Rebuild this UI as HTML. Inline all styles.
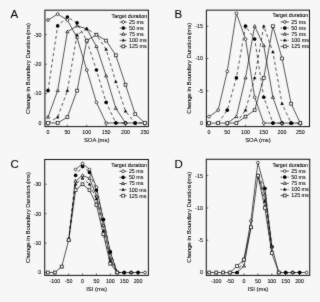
<!DOCTYPE html>
<html><head><meta charset="utf-8"><style>
html,body{margin:0;padding:0;background:#f7f7f7;}
#w{width:320px;height:302px;}
svg{display:block;font-family:"Liberation Sans", sans-serif;}
text{stroke:#000;stroke-width:0.08px;}
</style></head><body><div id="w">
<svg width="320" height="302" viewBox="0 0 320 302">
<defs><filter id="bl" x="0" y="0" width="320" height="302" filterUnits="userSpaceOnUse"><feConvolveMatrix order="3" kernelMatrix="1 2 1 2 26 2 1 2 1" divisor="38" edgeMode="duplicate"/></filter></defs>
<rect width="320" height="302" fill="#f7f7f7"/>
<g filter="url(#bl)"><g><text x="10.6" y="17.9" font-size="11.5" fill="#000">A</text><rect x="44.9" y="10.2" width="103.50" height="116.40" fill="none" stroke="#111" stroke-width="1.0"/><line x1="44.9" y1="123.00" x2="46.9" y2="123.00" stroke="#111" stroke-width="0.6"/><text x="41.50" y="124.90" font-size="5.3" text-anchor="end">0</text><line x1="44.9" y1="93.57" x2="46.9" y2="93.57" stroke="#111" stroke-width="0.6"/><text x="41.50" y="95.47" font-size="5.3" text-anchor="end">-10</text><line x1="44.9" y1="64.14" x2="46.9" y2="64.14" stroke="#111" stroke-width="0.6"/><text x="41.50" y="66.04" font-size="5.3" text-anchor="end">-20</text><line x1="44.9" y1="34.71" x2="46.9" y2="34.71" stroke="#111" stroke-width="0.6"/><text x="41.50" y="36.61" font-size="5.3" text-anchor="end">-30</text><line x1="48.00" y1="126.6" x2="48.00" y2="124.6" stroke="#111" stroke-width="0.6"/><text x="48.00" y="134.30" font-size="5.3" text-anchor="middle">0</text><line x1="67.38" y1="126.6" x2="67.38" y2="124.6" stroke="#111" stroke-width="0.6"/><text x="67.38" y="134.30" font-size="5.3" text-anchor="middle">50</text><line x1="86.76" y1="126.6" x2="86.76" y2="124.6" stroke="#111" stroke-width="0.6"/><text x="86.76" y="134.30" font-size="5.3" text-anchor="middle">100</text><line x1="106.14" y1="126.6" x2="106.14" y2="124.6" stroke="#111" stroke-width="0.6"/><text x="106.14" y="134.30" font-size="5.3" text-anchor="middle">150</text><line x1="125.52" y1="126.6" x2="125.52" y2="124.6" stroke="#111" stroke-width="0.6"/><text x="125.52" y="134.30" font-size="5.3" text-anchor="middle">200</text><line x1="144.90" y1="126.6" x2="144.90" y2="124.6" stroke="#111" stroke-width="0.6"/><text x="144.90" y="134.30" font-size="5.3" text-anchor="middle">250</text><text x="96.65" y="141.60" font-size="5.9" text-anchor="middle">SOA (ms)</text><text transform="translate(30.40,68.40) rotate(-90) scale(0.944,1)" x="0" y="0" font-size="6.25" text-anchor="middle">Change in Boundary Duration (ms)</text><polyline points="48.00,20.00 57.69,14.11 67.38,20.00 77.07,37.65 86.76,70.03 96.45,102.40 106.14,123.00 115.83,123.00 125.52,123.00" fill="none" stroke="#000" stroke-width="0.66"/><circle cx="48.00" cy="20.00" r="1.38" fill="#fff" stroke="#000" stroke-width="0.8"/><circle cx="57.69" cy="14.11" r="1.38" fill="#fff" stroke="#000" stroke-width="0.8"/><circle cx="67.38" cy="20.00" r="1.38" fill="#fff" stroke="#000" stroke-width="0.8"/><circle cx="77.07" cy="37.65" r="1.38" fill="#fff" stroke="#000" stroke-width="0.8"/><circle cx="86.76" cy="70.03" r="1.38" fill="#fff" stroke="#000" stroke-width="0.8"/><circle cx="96.45" cy="102.40" r="1.38" fill="#fff" stroke="#000" stroke-width="0.8"/><circle cx="106.14" cy="123.00" r="1.38" fill="#fff" stroke="#000" stroke-width="0.8"/><circle cx="115.83" cy="123.00" r="1.38" fill="#fff" stroke="#000" stroke-width="0.8"/><circle cx="125.52" cy="123.00" r="1.38" fill="#fff" stroke="#000" stroke-width="0.8"/><circle cx="135.21" cy="123.00" r="1.38" fill="#fff" stroke="#000" stroke-width="0.8"/><circle cx="144.90" cy="123.00" r="1.38" fill="#fff" stroke="#000" stroke-width="0.8"/><polyline points="48.00,90.63 57.69,25.88 67.38,17.05 77.07,22.94 86.76,40.60 96.45,70.03 106.14,102.40 115.83,123.00 125.52,123.00" fill="none" stroke="#000" stroke-width="0.66" stroke-dasharray="3.2 2.6"/><circle cx="48.00" cy="90.63" r="1.83" fill="#000"/><circle cx="57.69" cy="25.88" r="1.83" fill="#000"/><circle cx="67.38" cy="17.05" r="1.83" fill="#000"/><circle cx="77.07" cy="22.94" r="1.83" fill="#000"/><circle cx="86.76" cy="40.60" r="1.83" fill="#000"/><circle cx="96.45" cy="70.03" r="1.83" fill="#000"/><circle cx="106.14" cy="102.40" r="1.83" fill="#000"/><circle cx="115.83" cy="123.00" r="1.83" fill="#000"/><circle cx="125.52" cy="123.00" r="1.83" fill="#000"/><circle cx="135.21" cy="123.00" r="1.83" fill="#000"/><circle cx="144.90" cy="123.00" r="1.83" fill="#000"/><polyline points="48.00,117.11 57.69,90.63 67.38,31.77 77.07,25.88 86.76,28.82 96.45,46.48 106.14,75.91 115.83,108.28 125.52,123.00 135.21,123.00 144.90,123.00" fill="none" stroke="#000" stroke-width="0.66"/><polygon points="48.00,115.54 49.52,118.16 46.48,118.16" fill="#fff" stroke="#000" stroke-width="0.8"/><polygon points="57.69,89.05 59.21,91.68 56.17,91.68" fill="#fff" stroke="#000" stroke-width="0.8"/><polygon points="67.38,30.19 68.90,32.82 65.86,32.82" fill="#fff" stroke="#000" stroke-width="0.8"/><polygon points="77.07,24.31 78.59,26.93 75.55,26.93" fill="#fff" stroke="#000" stroke-width="0.8"/><polygon points="86.76,27.25 88.28,29.87 85.24,29.87" fill="#fff" stroke="#000" stroke-width="0.8"/><polygon points="96.45,44.91 97.97,47.53 94.93,47.53" fill="#fff" stroke="#000" stroke-width="0.8"/><polygon points="106.14,74.34 107.66,76.96 104.62,76.96" fill="#fff" stroke="#000" stroke-width="0.8"/><polygon points="115.83,106.71 117.35,109.33 114.31,109.33" fill="#fff" stroke="#000" stroke-width="0.8"/><polygon points="125.52,121.43 127.04,124.05 124.00,124.05" fill="#fff" stroke="#000" stroke-width="0.8"/><polygon points="135.21,121.43 136.73,124.05 133.69,124.05" fill="#fff" stroke="#000" stroke-width="0.8"/><polygon points="144.90,121.43 146.42,124.05 143.38,124.05" fill="#fff" stroke="#000" stroke-width="0.8"/><polyline points="48.00,123.00 57.69,117.11 67.38,90.63 77.07,34.71 86.76,28.82 96.45,34.71 106.14,49.42 115.83,81.80 125.52,111.23 135.21,123.00 144.90,123.00" fill="none" stroke="#000" stroke-width="0.66" stroke-dasharray="3.2 2.6"/><polygon points="48.00,121.43 49.52,124.05 46.48,124.05" fill="#000" stroke="#000" stroke-width="0.3"/><polygon points="57.69,115.54 59.21,118.16 56.17,118.16" fill="#000" stroke="#000" stroke-width="0.3"/><polygon points="67.38,89.05 68.90,91.68 65.86,91.68" fill="#000" stroke="#000" stroke-width="0.3"/><polygon points="77.07,33.14 78.59,35.76 75.55,35.76" fill="#000" stroke="#000" stroke-width="0.3"/><polygon points="86.76,27.25 88.28,29.87 85.24,29.87" fill="#000" stroke="#000" stroke-width="0.3"/><polygon points="96.45,33.14 97.97,35.76 94.93,35.76" fill="#000" stroke="#000" stroke-width="0.3"/><polygon points="106.14,47.85 107.66,50.47 104.62,50.47" fill="#000" stroke="#000" stroke-width="0.3"/><polygon points="115.83,80.22 117.35,82.85 114.31,82.85" fill="#000" stroke="#000" stroke-width="0.3"/><polygon points="125.52,109.65 127.04,112.28 124.00,112.28" fill="#000" stroke="#000" stroke-width="0.3"/><polygon points="135.21,121.43 136.73,124.05 133.69,124.05" fill="#000" stroke="#000" stroke-width="0.3"/><polygon points="144.90,121.43 146.42,124.05 143.38,124.05" fill="#000" stroke="#000" stroke-width="0.3"/><polyline points="48.00,123.00 57.69,123.00 67.38,117.11 77.07,90.63 86.76,40.60 96.45,34.71 106.14,40.60 115.83,55.31 125.52,84.74 135.21,114.17 144.90,123.00" fill="none" stroke="#000" stroke-width="0.66"/><rect x="46.59" y="121.59" width="2.82" height="2.82" fill="#fff" stroke="#000" stroke-width="0.8"/><rect x="56.28" y="121.59" width="2.82" height="2.82" fill="#fff" stroke="#000" stroke-width="0.8"/><rect x="65.97" y="115.71" width="2.82" height="2.82" fill="#fff" stroke="#000" stroke-width="0.8"/><rect x="75.66" y="89.22" width="2.82" height="2.82" fill="#fff" stroke="#000" stroke-width="0.8"/><rect x="85.35" y="39.19" width="2.82" height="2.82" fill="#fff" stroke="#000" stroke-width="0.8"/><rect x="95.04" y="33.30" width="2.82" height="2.82" fill="#fff" stroke="#000" stroke-width="0.8"/><rect x="104.73" y="39.19" width="2.82" height="2.82" fill="#fff" stroke="#000" stroke-width="0.8"/><rect x="114.42" y="53.90" width="2.82" height="2.82" fill="#fff" stroke="#000" stroke-width="0.8"/><rect x="124.11" y="83.33" width="2.82" height="2.82" fill="#fff" stroke="#000" stroke-width="0.8"/><rect x="133.80" y="112.76" width="2.82" height="2.82" fill="#fff" stroke="#000" stroke-width="0.8"/><rect x="143.49" y="121.59" width="2.82" height="2.82" fill="#fff" stroke="#000" stroke-width="0.8"/><text x="111.50" y="17.80" font-size="5.35">Target duration</text><line x1="119.70" y1="22.00" x2="126.90" y2="22.00" stroke="#000" stroke-width="0.66"/><circle cx="123.30" cy="22.00" r="1.38" fill="#fff" stroke="#000" stroke-width="0.8"/><text x="129.10" y="23.90" font-size="5.35">25 ms</text><line x1="119.70" y1="28.10" x2="126.90" y2="28.10" stroke="#000" stroke-width="0.66" stroke-dasharray="1.6 1.0"/><circle cx="123.30" cy="28.10" r="1.83" fill="#000"/><text x="129.10" y="30.00" font-size="5.35">50 ms</text><line x1="119.70" y1="34.20" x2="126.90" y2="34.20" stroke="#000" stroke-width="0.66"/><polygon points="123.30,32.63 124.82,35.25 121.78,35.25" fill="#fff" stroke="#000" stroke-width="0.8"/><text x="129.10" y="36.10" font-size="5.35">75 ms</text><line x1="119.70" y1="40.30" x2="126.90" y2="40.30" stroke="#000" stroke-width="0.66" stroke-dasharray="1.6 1.0"/><polygon points="123.30,38.73 124.82,41.35 121.78,41.35" fill="#000" stroke="#000" stroke-width="0.3"/><text x="129.10" y="42.20" font-size="5.35">100 ms</text><line x1="119.70" y1="46.40" x2="126.90" y2="46.40" stroke="#000" stroke-width="0.66"/><rect x="121.89" y="44.99" width="2.82" height="2.82" fill="#fff" stroke="#000" stroke-width="0.8"/><text x="129.10" y="48.30" font-size="5.35">125 ms</text></g><g><text x="174.4" y="17.9" font-size="11.5" fill="#000">B</text><rect x="206.4" y="10.15" width="103.10" height="116.45" fill="none" stroke="#111" stroke-width="1.0"/><line x1="206.4" y1="123.10" x2="208.4" y2="123.10" stroke="#111" stroke-width="0.6"/><text x="203.00" y="125.00" font-size="5.3" text-anchor="end">0</text><line x1="206.4" y1="90.80" x2="208.4" y2="90.80" stroke="#111" stroke-width="0.6"/><text x="203.00" y="92.70" font-size="5.3" text-anchor="end">-5</text><line x1="206.4" y1="58.50" x2="208.4" y2="58.50" stroke="#111" stroke-width="0.6"/><text x="203.00" y="60.40" font-size="5.3" text-anchor="end">-10</text><line x1="206.4" y1="26.20" x2="208.4" y2="26.20" stroke="#111" stroke-width="0.6"/><text x="203.00" y="28.10" font-size="5.3" text-anchor="end">-15</text><line x1="209.00" y1="126.6" x2="209.00" y2="124.6" stroke="#111" stroke-width="0.6"/><text x="209.00" y="134.30" font-size="5.3" text-anchor="middle">0</text><line x1="227.26" y1="126.6" x2="227.26" y2="124.6" stroke="#111" stroke-width="0.6"/><text x="227.26" y="134.30" font-size="5.3" text-anchor="middle">50</text><line x1="245.52" y1="126.6" x2="245.52" y2="124.6" stroke="#111" stroke-width="0.6"/><text x="245.52" y="134.30" font-size="5.3" text-anchor="middle">100</text><line x1="263.78" y1="126.6" x2="263.78" y2="124.6" stroke="#111" stroke-width="0.6"/><text x="263.78" y="134.30" font-size="5.3" text-anchor="middle">150</text><line x1="282.04" y1="126.6" x2="282.04" y2="124.6" stroke="#111" stroke-width="0.6"/><text x="282.04" y="134.30" font-size="5.3" text-anchor="middle">200</text><line x1="300.30" y1="126.6" x2="300.30" y2="124.6" stroke="#111" stroke-width="0.6"/><text x="300.30" y="134.30" font-size="5.3" text-anchor="middle">250</text><text x="257.95" y="141.60" font-size="5.9" text-anchor="middle">SOA (ms)</text><text transform="translate(191.00,68.38) rotate(-90) scale(0.944,1)" x="0" y="0" font-size="6.25" text-anchor="middle">Change in Boundary Duration (ms)</text><polyline points="209.00,116.64 218.13,110.18 227.26,71.42 236.39,13.28 245.52,39.12 254.65,97.26 263.78,123.10 272.91,123.10 282.04,123.10" fill="none" stroke="#000" stroke-width="0.66"/><circle cx="209.00" cy="116.64" r="1.38" fill="#fff" stroke="#000" stroke-width="0.8"/><circle cx="218.13" cy="110.18" r="1.38" fill="#fff" stroke="#000" stroke-width="0.8"/><circle cx="227.26" cy="71.42" r="1.38" fill="#fff" stroke="#000" stroke-width="0.8"/><circle cx="236.39" cy="13.28" r="1.38" fill="#fff" stroke="#000" stroke-width="0.8"/><circle cx="245.52" cy="39.12" r="1.38" fill="#fff" stroke="#000" stroke-width="0.8"/><circle cx="254.65" cy="97.26" r="1.38" fill="#fff" stroke="#000" stroke-width="0.8"/><circle cx="263.78" cy="123.10" r="1.38" fill="#fff" stroke="#000" stroke-width="0.8"/><circle cx="272.91" cy="123.10" r="1.38" fill="#fff" stroke="#000" stroke-width="0.8"/><circle cx="282.04" cy="123.10" r="1.38" fill="#fff" stroke="#000" stroke-width="0.8"/><circle cx="291.17" cy="123.10" r="1.38" fill="#fff" stroke="#000" stroke-width="0.8"/><circle cx="300.30" cy="123.10" r="1.38" fill="#fff" stroke="#000" stroke-width="0.8"/><polyline points="218.13,123.10 227.26,110.18 236.39,77.88 245.52,26.20 254.65,39.12 263.78,97.26 272.91,123.10 282.04,123.10" fill="none" stroke="#000" stroke-width="0.66" stroke-dasharray="3.2 2.6"/><circle cx="209.00" cy="123.10" r="1.83" fill="#000"/><circle cx="218.13" cy="123.10" r="1.83" fill="#000"/><circle cx="227.26" cy="110.18" r="1.83" fill="#000"/><circle cx="236.39" cy="77.88" r="1.83" fill="#000"/><circle cx="245.52" cy="26.20" r="1.83" fill="#000"/><circle cx="254.65" cy="39.12" r="1.83" fill="#000"/><circle cx="263.78" cy="97.26" r="1.83" fill="#000"/><circle cx="272.91" cy="123.10" r="1.83" fill="#000"/><circle cx="282.04" cy="123.10" r="1.83" fill="#000"/><circle cx="291.17" cy="123.10" r="1.83" fill="#000"/><circle cx="300.30" cy="123.10" r="1.83" fill="#000"/><polyline points="227.26,123.10 236.39,116.64 245.52,77.88 254.65,26.20 263.78,45.58 272.91,97.26 282.04,123.10 291.17,123.10 300.30,123.10" fill="none" stroke="#000" stroke-width="0.66"/><polygon points="209.00,121.53 210.52,124.15 207.48,124.15" fill="#fff" stroke="#000" stroke-width="0.8"/><polygon points="218.13,121.53 219.65,124.15 216.61,124.15" fill="#fff" stroke="#000" stroke-width="0.8"/><polygon points="227.26,121.53 228.78,124.15 225.74,124.15" fill="#fff" stroke="#000" stroke-width="0.8"/><polygon points="236.39,115.07 237.91,117.69 234.87,117.69" fill="#fff" stroke="#000" stroke-width="0.8"/><polygon points="245.52,76.31 247.04,78.93 244.00,78.93" fill="#fff" stroke="#000" stroke-width="0.8"/><polygon points="254.65,24.63 256.17,27.25 253.13,27.25" fill="#fff" stroke="#000" stroke-width="0.8"/><polygon points="263.78,44.01 265.30,46.63 262.26,46.63" fill="#fff" stroke="#000" stroke-width="0.8"/><polygon points="272.91,95.69 274.43,98.31 271.39,98.31" fill="#fff" stroke="#000" stroke-width="0.8"/><polygon points="282.04,121.53 283.56,124.15 280.52,124.15" fill="#fff" stroke="#000" stroke-width="0.8"/><polygon points="291.17,121.53 292.69,124.15 289.65,124.15" fill="#fff" stroke="#000" stroke-width="0.8"/><polygon points="300.30,121.53 301.82,124.15 298.78,124.15" fill="#fff" stroke="#000" stroke-width="0.8"/><polyline points="236.39,123.10 245.52,110.18 254.65,77.88 263.78,26.20 272.91,52.04 282.04,103.72 291.17,123.10 300.30,123.10" fill="none" stroke="#000" stroke-width="0.66" stroke-dasharray="3.2 2.6"/><polygon points="209.00,121.53 210.52,124.15 207.48,124.15" fill="#000" stroke="#000" stroke-width="0.3"/><polygon points="218.13,121.53 219.65,124.15 216.61,124.15" fill="#000" stroke="#000" stroke-width="0.3"/><polygon points="227.26,121.53 228.78,124.15 225.74,124.15" fill="#000" stroke="#000" stroke-width="0.3"/><polygon points="236.39,121.53 237.91,124.15 234.87,124.15" fill="#000" stroke="#000" stroke-width="0.3"/><polygon points="245.52,108.61 247.04,111.23 244.00,111.23" fill="#000" stroke="#000" stroke-width="0.3"/><polygon points="254.65,76.31 256.17,78.93 253.13,78.93" fill="#000" stroke="#000" stroke-width="0.3"/><polygon points="263.78,24.63 265.30,27.25 262.26,27.25" fill="#000" stroke="#000" stroke-width="0.3"/><polygon points="272.91,50.47 274.43,53.09 271.39,53.09" fill="#000" stroke="#000" stroke-width="0.3"/><polygon points="282.04,102.15 283.56,104.77 280.52,104.77" fill="#000" stroke="#000" stroke-width="0.3"/><polygon points="291.17,121.53 292.69,124.15 289.65,124.15" fill="#000" stroke="#000" stroke-width="0.3"/><polygon points="300.30,121.53 301.82,124.15 298.78,124.15" fill="#000" stroke="#000" stroke-width="0.3"/><polyline points="209.00,123.10 218.13,123.10 227.26,123.10 236.39,123.10 245.52,116.64 254.65,110.18 263.78,77.88 272.91,26.20 282.04,58.50 291.17,103.72 300.30,123.10" fill="none" stroke="#000" stroke-width="0.66"/><rect x="207.59" y="121.69" width="2.82" height="2.82" fill="#fff" stroke="#000" stroke-width="0.8"/><rect x="216.72" y="121.69" width="2.82" height="2.82" fill="#fff" stroke="#000" stroke-width="0.8"/><rect x="225.85" y="121.69" width="2.82" height="2.82" fill="#fff" stroke="#000" stroke-width="0.8"/><rect x="234.98" y="121.69" width="2.82" height="2.82" fill="#fff" stroke="#000" stroke-width="0.8"/><rect x="244.11" y="115.23" width="2.82" height="2.82" fill="#fff" stroke="#000" stroke-width="0.8"/><rect x="253.24" y="108.77" width="2.82" height="2.82" fill="#fff" stroke="#000" stroke-width="0.8"/><rect x="262.37" y="76.47" width="2.82" height="2.82" fill="#fff" stroke="#000" stroke-width="0.8"/><rect x="271.50" y="24.79" width="2.82" height="2.82" fill="#fff" stroke="#000" stroke-width="0.8"/><rect x="280.63" y="57.09" width="2.82" height="2.82" fill="#fff" stroke="#000" stroke-width="0.8"/><rect x="289.76" y="102.31" width="2.82" height="2.82" fill="#fff" stroke="#000" stroke-width="0.8"/><rect x="298.89" y="121.69" width="2.82" height="2.82" fill="#fff" stroke="#000" stroke-width="0.8"/><text x="272.50" y="17.45" font-size="5.35">Target duration</text><line x1="280.60" y1="21.95" x2="289.00" y2="21.95" stroke="#000" stroke-width="0.66"/><circle cx="284.80" cy="21.95" r="1.38" fill="#fff" stroke="#000" stroke-width="0.8"/><text x="291.30" y="23.85" font-size="5.35">25 ms</text><line x1="280.60" y1="28.05" x2="289.00" y2="28.05" stroke="#000" stroke-width="0.66" stroke-dasharray="1.6 1.0"/><circle cx="284.80" cy="28.05" r="1.83" fill="#000"/><text x="291.30" y="29.95" font-size="5.35">50 ms</text><line x1="280.60" y1="34.15" x2="289.00" y2="34.15" stroke="#000" stroke-width="0.66"/><polygon points="284.80,32.58 286.32,35.20 283.28,35.20" fill="#fff" stroke="#000" stroke-width="0.8"/><text x="291.30" y="36.05" font-size="5.35">75 ms</text><line x1="280.60" y1="40.25" x2="289.00" y2="40.25" stroke="#000" stroke-width="0.66" stroke-dasharray="1.6 1.0"/><polygon points="284.80,38.68 286.32,41.30 283.28,41.30" fill="#000" stroke="#000" stroke-width="0.3"/><text x="291.30" y="42.15" font-size="5.35">100 ms</text><line x1="280.60" y1="46.35" x2="289.00" y2="46.35" stroke="#000" stroke-width="0.66"/><rect x="283.39" y="44.94" width="2.82" height="2.82" fill="#fff" stroke="#000" stroke-width="0.8"/><text x="291.30" y="48.25" font-size="5.35">125 ms</text></g><g><text x="10.6" y="167.6" font-size="11.5" fill="#000">C</text><rect x="44.7" y="159.5" width="103.70" height="115.90" fill="none" stroke="#111" stroke-width="1.0"/><line x1="44.7" y1="272.50" x2="46.7" y2="272.50" stroke="#111" stroke-width="0.6"/><text x="41.30" y="274.40" font-size="5.3" text-anchor="end">0</text><line x1="44.7" y1="243.07" x2="46.7" y2="243.07" stroke="#111" stroke-width="0.6"/><text x="41.30" y="244.97" font-size="5.3" text-anchor="end">-10</text><line x1="44.7" y1="213.64" x2="46.7" y2="213.64" stroke="#111" stroke-width="0.6"/><text x="41.30" y="215.54" font-size="5.3" text-anchor="end">-20</text><line x1="44.7" y1="184.21" x2="46.7" y2="184.21" stroke="#111" stroke-width="0.6"/><text x="41.30" y="186.11" font-size="5.3" text-anchor="end">-30</text><line x1="54.80" y1="275.4" x2="54.80" y2="273.4" stroke="#111" stroke-width="0.6"/><text x="54.80" y="283.10" font-size="5.3" text-anchor="middle">-100</text><line x1="68.67" y1="275.4" x2="68.67" y2="273.4" stroke="#111" stroke-width="0.6"/><text x="68.67" y="283.10" font-size="5.3" text-anchor="middle">-50</text><line x1="82.55" y1="275.4" x2="82.55" y2="273.4" stroke="#111" stroke-width="0.6"/><text x="82.55" y="283.10" font-size="5.3" text-anchor="middle">0</text><line x1="96.42" y1="275.4" x2="96.42" y2="273.4" stroke="#111" stroke-width="0.6"/><text x="96.42" y="283.10" font-size="5.3" text-anchor="middle">50</text><line x1="110.30" y1="275.4" x2="110.30" y2="273.4" stroke="#111" stroke-width="0.6"/><text x="110.30" y="283.10" font-size="5.3" text-anchor="middle">100</text><line x1="124.18" y1="275.4" x2="124.18" y2="273.4" stroke="#111" stroke-width="0.6"/><text x="124.18" y="283.10" font-size="5.3" text-anchor="middle">150</text><line x1="138.05" y1="275.4" x2="138.05" y2="273.4" stroke="#111" stroke-width="0.6"/><text x="138.05" y="283.10" font-size="5.3" text-anchor="middle">200</text><text x="96.55" y="291.00" font-size="5.9" text-anchor="middle">ISI (ms)</text><text transform="translate(30.20,217.45) rotate(-90) scale(0.944,1)" x="0" y="0" font-size="6.25" text-anchor="middle">Change in Boundary Duration (ms)</text><polyline points="75.61,169.50 82.55,163.61 89.49,169.50 96.42,187.15 103.36,219.53 110.30,251.90 117.24,272.50" fill="none" stroke="#000" stroke-width="0.66"/><polyline points="131.11,272.50 138.05,272.50 144.99,272.50" fill="none" stroke="#000" stroke-width="0.66"/><circle cx="75.61" cy="169.50" r="1.38" fill="#fff" stroke="#000" stroke-width="0.8"/><circle cx="82.55" cy="163.61" r="1.38" fill="#fff" stroke="#000" stroke-width="0.8"/><circle cx="89.49" cy="169.50" r="1.38" fill="#fff" stroke="#000" stroke-width="0.8"/><circle cx="96.42" cy="187.15" r="1.38" fill="#fff" stroke="#000" stroke-width="0.8"/><circle cx="103.36" cy="219.53" r="1.38" fill="#fff" stroke="#000" stroke-width="0.8"/><circle cx="110.30" cy="251.90" r="1.38" fill="#fff" stroke="#000" stroke-width="0.8"/><circle cx="117.24" cy="272.50" r="1.38" fill="#fff" stroke="#000" stroke-width="0.8"/><circle cx="124.18" cy="272.50" r="1.38" fill="#fff" stroke="#000" stroke-width="0.8"/><circle cx="131.11" cy="272.50" r="1.38" fill="#fff" stroke="#000" stroke-width="0.8"/><circle cx="138.05" cy="272.50" r="1.38" fill="#fff" stroke="#000" stroke-width="0.8"/><circle cx="144.99" cy="272.50" r="1.38" fill="#fff" stroke="#000" stroke-width="0.8"/><polyline points="68.67,240.13 75.61,175.38 82.55,166.55 89.49,172.44 96.42,190.10 103.36,219.53 110.30,251.90 117.24,272.50" fill="none" stroke="#000" stroke-width="0.66" stroke-dasharray="3.2 2.6"/><polyline points="131.11,272.50 138.05,272.50" fill="none" stroke="#000" stroke-width="0.66" stroke-dasharray="3.2 2.6"/><circle cx="68.67" cy="240.13" r="1.83" fill="#000"/><circle cx="75.61" cy="175.38" r="1.83" fill="#000"/><circle cx="82.55" cy="166.55" r="1.83" fill="#000"/><circle cx="89.49" cy="172.44" r="1.83" fill="#000"/><circle cx="96.42" cy="190.10" r="1.83" fill="#000"/><circle cx="103.36" cy="219.53" r="1.83" fill="#000"/><circle cx="110.30" cy="251.90" r="1.83" fill="#000"/><circle cx="117.24" cy="272.50" r="1.83" fill="#000"/><circle cx="124.18" cy="272.50" r="1.83" fill="#000"/><circle cx="131.11" cy="272.50" r="1.83" fill="#000"/><circle cx="138.05" cy="272.50" r="1.83" fill="#000"/><polyline points="68.67,240.13 75.61,181.27 82.55,175.38 89.49,178.32 96.42,195.98 103.36,225.41 110.30,257.79 117.24,272.50 124.18,272.50 131.11,272.50" fill="none" stroke="#000" stroke-width="0.66"/><polygon points="61.74,265.04 63.26,267.66 60.22,267.66" fill="#fff" stroke="#000" stroke-width="0.8"/><polygon points="68.67,238.55 70.19,241.18 67.16,241.18" fill="#fff" stroke="#000" stroke-width="0.8"/><polygon points="75.61,179.69 77.13,182.32 74.09,182.32" fill="#fff" stroke="#000" stroke-width="0.8"/><polygon points="82.55,173.81 84.07,176.43 81.03,176.43" fill="#fff" stroke="#000" stroke-width="0.8"/><polygon points="89.49,176.75 91.01,179.37 87.97,179.37" fill="#fff" stroke="#000" stroke-width="0.8"/><polygon points="96.42,194.41 97.94,197.03 94.91,197.03" fill="#fff" stroke="#000" stroke-width="0.8"/><polygon points="103.36,223.84 104.88,226.46 101.84,226.46" fill="#fff" stroke="#000" stroke-width="0.8"/><polygon points="110.30,256.21 111.82,258.83 108.78,258.83" fill="#fff" stroke="#000" stroke-width="0.8"/><polygon points="117.24,270.93 118.76,273.55 115.72,273.55" fill="#fff" stroke="#000" stroke-width="0.8"/><polygon points="124.18,270.93 125.69,273.55 122.66,273.55" fill="#fff" stroke="#000" stroke-width="0.8"/><polygon points="131.11,270.93 132.63,273.55 129.59,273.55" fill="#fff" stroke="#000" stroke-width="0.8"/><polyline points="68.67,240.13 75.61,184.21 82.55,178.32 89.49,184.21 96.42,198.93 103.36,231.30 110.30,260.73 117.24,272.50 124.18,272.50" fill="none" stroke="#000" stroke-width="0.66" stroke-dasharray="3.2 2.6"/><polygon points="54.80,270.93 56.32,273.55 53.28,273.55" fill="#000" stroke="#000" stroke-width="0.3"/><polygon points="61.74,265.04 63.26,267.66 60.22,267.66" fill="#000" stroke="#000" stroke-width="0.3"/><polygon points="68.67,238.55 70.19,241.18 67.16,241.18" fill="#000" stroke="#000" stroke-width="0.3"/><polygon points="75.61,182.64 77.13,185.26 74.09,185.26" fill="#000" stroke="#000" stroke-width="0.3"/><polygon points="82.55,176.75 84.07,179.37 81.03,179.37" fill="#000" stroke="#000" stroke-width="0.3"/><polygon points="89.49,182.64 91.01,185.26 87.97,185.26" fill="#000" stroke="#000" stroke-width="0.3"/><polygon points="96.42,197.35 97.94,199.97 94.91,199.97" fill="#000" stroke="#000" stroke-width="0.3"/><polygon points="103.36,229.72 104.88,232.35 101.84,232.35" fill="#000" stroke="#000" stroke-width="0.3"/><polygon points="110.30,259.15 111.82,261.78 108.78,261.78" fill="#000" stroke="#000" stroke-width="0.3"/><polygon points="117.24,270.93 118.76,273.55 115.72,273.55" fill="#000" stroke="#000" stroke-width="0.3"/><polygon points="124.18,270.93 125.69,273.55 122.66,273.55" fill="#000" stroke="#000" stroke-width="0.3"/><polyline points="47.86,272.50 54.80,272.50 61.74,266.61 68.67,240.13 75.61,190.10 82.55,184.21 89.49,190.10 96.42,204.81 103.36,234.24 110.30,263.67 117.24,272.50" fill="none" stroke="#000" stroke-width="0.66"/><rect x="46.45" y="271.09" width="2.82" height="2.82" fill="#fff" stroke="#000" stroke-width="0.8"/><rect x="53.39" y="271.09" width="2.82" height="2.82" fill="#fff" stroke="#000" stroke-width="0.8"/><rect x="60.33" y="265.21" width="2.82" height="2.82" fill="#fff" stroke="#000" stroke-width="0.8"/><rect x="67.27" y="238.72" width="2.82" height="2.82" fill="#fff" stroke="#000" stroke-width="0.8"/><rect x="74.20" y="188.69" width="2.82" height="2.82" fill="#fff" stroke="#000" stroke-width="0.8"/><rect x="81.14" y="182.80" width="2.82" height="2.82" fill="#fff" stroke="#000" stroke-width="0.8"/><rect x="88.08" y="188.69" width="2.82" height="2.82" fill="#fff" stroke="#000" stroke-width="0.8"/><rect x="95.02" y="203.40" width="2.82" height="2.82" fill="#fff" stroke="#000" stroke-width="0.8"/><rect x="101.95" y="232.83" width="2.82" height="2.82" fill="#fff" stroke="#000" stroke-width="0.8"/><rect x="108.89" y="262.26" width="2.82" height="2.82" fill="#fff" stroke="#000" stroke-width="0.8"/><rect x="115.83" y="271.09" width="2.82" height="2.82" fill="#fff" stroke="#000" stroke-width="0.8"/><text x="111.30" y="167.10" font-size="5.35">Target duration</text><line x1="119.50" y1="171.30" x2="126.70" y2="171.30" stroke="#000" stroke-width="0.66"/><circle cx="123.10" cy="171.30" r="1.38" fill="#fff" stroke="#000" stroke-width="0.8"/><text x="128.90" y="173.20" font-size="5.35">25 ms</text><line x1="119.50" y1="177.40" x2="126.70" y2="177.40" stroke="#000" stroke-width="0.66" stroke-dasharray="1.6 1.0"/><circle cx="123.10" cy="177.40" r="1.83" fill="#000"/><text x="128.90" y="179.30" font-size="5.35">50 ms</text><line x1="119.50" y1="183.50" x2="126.70" y2="183.50" stroke="#000" stroke-width="0.66"/><polygon points="123.10,181.93 124.62,184.55 121.58,184.55" fill="#fff" stroke="#000" stroke-width="0.8"/><text x="128.90" y="185.40" font-size="5.35">75 ms</text><line x1="119.50" y1="189.60" x2="126.70" y2="189.60" stroke="#000" stroke-width="0.66" stroke-dasharray="1.6 1.0"/><polygon points="123.10,188.03 124.62,190.65 121.58,190.65" fill="#000" stroke="#000" stroke-width="0.3"/><text x="128.90" y="191.50" font-size="5.35">100 ms</text><line x1="119.50" y1="195.70" x2="126.70" y2="195.70" stroke="#000" stroke-width="0.66"/><rect x="121.69" y="194.29" width="2.82" height="2.82" fill="#fff" stroke="#000" stroke-width="0.8"/><text x="128.90" y="197.60" font-size="5.35">125 ms</text></g><g><text x="174.4" y="167.6" font-size="11.5" fill="#000">D</text><rect x="206.3" y="159.3" width="103.40" height="116.10" fill="none" stroke="#111" stroke-width="1.0"/><line x1="206.3" y1="272.50" x2="208.3" y2="272.50" stroke="#111" stroke-width="0.6"/><text x="202.90" y="274.40" font-size="5.3" text-anchor="end">0</text><line x1="206.3" y1="240.20" x2="208.3" y2="240.20" stroke="#111" stroke-width="0.6"/><text x="202.90" y="242.10" font-size="5.3" text-anchor="end">-5</text><line x1="206.3" y1="207.90" x2="208.3" y2="207.90" stroke="#111" stroke-width="0.6"/><text x="202.90" y="209.80" font-size="5.3" text-anchor="end">-10</text><line x1="206.3" y1="175.60" x2="208.3" y2="175.60" stroke="#111" stroke-width="0.6"/><text x="202.90" y="177.50" font-size="5.3" text-anchor="end">-15</text><line x1="216.20" y1="275.4" x2="216.20" y2="273.4" stroke="#111" stroke-width="0.6"/><text x="216.20" y="283.10" font-size="5.3" text-anchor="middle">-100</text><line x1="230.10" y1="275.4" x2="230.10" y2="273.4" stroke="#111" stroke-width="0.6"/><text x="230.10" y="283.10" font-size="5.3" text-anchor="middle">-50</text><line x1="244.00" y1="275.4" x2="244.00" y2="273.4" stroke="#111" stroke-width="0.6"/><text x="244.00" y="283.10" font-size="5.3" text-anchor="middle">0</text><line x1="257.90" y1="275.4" x2="257.90" y2="273.4" stroke="#111" stroke-width="0.6"/><text x="257.90" y="283.10" font-size="5.3" text-anchor="middle">50</text><line x1="271.80" y1="275.4" x2="271.80" y2="273.4" stroke="#111" stroke-width="0.6"/><text x="271.80" y="283.10" font-size="5.3" text-anchor="middle">100</text><line x1="285.70" y1="275.4" x2="285.70" y2="273.4" stroke="#111" stroke-width="0.6"/><text x="285.70" y="283.10" font-size="5.3" text-anchor="middle">150</text><line x1="299.60" y1="275.4" x2="299.60" y2="273.4" stroke="#111" stroke-width="0.6"/><text x="299.60" y="283.10" font-size="5.3" text-anchor="middle">200</text><text x="258.00" y="291.00" font-size="5.9" text-anchor="middle">ISI (ms)</text><text transform="translate(190.90,217.35) rotate(-90) scale(0.944,1)" x="0" y="0" font-size="6.25" text-anchor="middle">Change in Boundary Duration (ms)</text><polyline points="244.00,259.58 250.95,220.82 257.90,162.68 264.85,188.52 271.80,246.66" fill="none" stroke="#000" stroke-width="0.66"/><polyline points="292.65,272.50 299.60,272.50 306.55,272.50" fill="none" stroke="#000" stroke-width="0.66"/><circle cx="237.05" cy="266.04" r="1.38" fill="#fff" stroke="#000" stroke-width="0.8"/><circle cx="244.00" cy="259.58" r="1.38" fill="#fff" stroke="#000" stroke-width="0.8"/><circle cx="250.95" cy="220.82" r="1.38" fill="#fff" stroke="#000" stroke-width="0.8"/><circle cx="257.90" cy="162.68" r="1.38" fill="#fff" stroke="#000" stroke-width="0.8"/><circle cx="264.85" cy="188.52" r="1.38" fill="#fff" stroke="#000" stroke-width="0.8"/><circle cx="271.80" cy="246.66" r="1.38" fill="#fff" stroke="#000" stroke-width="0.8"/><circle cx="278.75" cy="272.50" r="1.38" fill="#fff" stroke="#000" stroke-width="0.8"/><circle cx="285.70" cy="272.50" r="1.38" fill="#fff" stroke="#000" stroke-width="0.8"/><circle cx="292.65" cy="272.50" r="1.38" fill="#fff" stroke="#000" stroke-width="0.8"/><circle cx="299.60" cy="272.50" r="1.38" fill="#fff" stroke="#000" stroke-width="0.8"/><circle cx="306.55" cy="272.50" r="1.38" fill="#fff" stroke="#000" stroke-width="0.8"/><polyline points="257.90,175.60 264.85,188.52 271.80,246.66" fill="none" stroke="#000" stroke-width="0.66" stroke-dasharray="3.2 2.6"/><polyline points="292.65,272.50 299.60,272.50" fill="none" stroke="#000" stroke-width="0.66" stroke-dasharray="3.2 2.6"/><circle cx="230.10" cy="272.50" r="1.83" fill="#000"/><circle cx="237.05" cy="272.50" r="1.83" fill="#000"/><circle cx="244.00" cy="259.58" r="1.83" fill="#000"/><circle cx="250.95" cy="227.28" r="1.83" fill="#000"/><circle cx="257.90" cy="175.60" r="1.83" fill="#000"/><circle cx="264.85" cy="188.52" r="1.83" fill="#000"/><circle cx="271.80" cy="246.66" r="1.83" fill="#000"/><circle cx="278.75" cy="272.50" r="1.83" fill="#000"/><circle cx="285.70" cy="272.50" r="1.83" fill="#000"/><circle cx="292.65" cy="272.50" r="1.83" fill="#000"/><circle cx="299.60" cy="272.50" r="1.83" fill="#000"/><polyline points="230.10,272.50 237.05,272.50 244.00,266.04 250.95,227.28" fill="none" stroke="#000" stroke-width="0.66"/><polyline points="257.90,175.60 264.85,194.98 271.80,246.66 278.75,272.50 285.70,272.50 292.65,272.50" fill="none" stroke="#000" stroke-width="0.66"/><polygon points="223.15,270.93 224.67,273.55 221.63,273.55" fill="#fff" stroke="#000" stroke-width="0.8"/><polygon points="230.10,270.93 231.62,273.55 228.58,273.55" fill="#fff" stroke="#000" stroke-width="0.8"/><polygon points="237.05,270.93 238.57,273.55 235.53,273.55" fill="#fff" stroke="#000" stroke-width="0.8"/><polygon points="244.00,264.47 245.52,267.09 242.48,267.09" fill="#fff" stroke="#000" stroke-width="0.8"/><polygon points="250.95,225.71 252.47,228.33 249.43,228.33" fill="#fff" stroke="#000" stroke-width="0.8"/><polygon points="257.90,174.03 259.42,176.65 256.38,176.65" fill="#fff" stroke="#000" stroke-width="0.8"/><polygon points="264.85,193.41 266.37,196.03 263.33,196.03" fill="#fff" stroke="#000" stroke-width="0.8"/><polygon points="271.80,245.09 273.32,247.71 270.28,247.71" fill="#fff" stroke="#000" stroke-width="0.8"/><polygon points="278.75,270.93 280.27,273.55 277.23,273.55" fill="#fff" stroke="#000" stroke-width="0.8"/><polygon points="285.70,270.93 287.22,273.55 284.18,273.55" fill="#fff" stroke="#000" stroke-width="0.8"/><polygon points="292.65,270.93 294.17,273.55 291.13,273.55" fill="#fff" stroke="#000" stroke-width="0.8"/><polyline points="230.10,272.50 237.05,272.50 244.00,259.58" fill="none" stroke="#000" stroke-width="0.66" stroke-dasharray="3.2 2.6"/><polyline points="257.90,175.60 264.85,201.44 271.80,253.12" fill="none" stroke="#000" stroke-width="0.66" stroke-dasharray="3.2 2.6"/><polyline points="278.75,272.50 285.70,272.50" fill="none" stroke="#000" stroke-width="0.66" stroke-dasharray="3.2 2.6"/><polygon points="216.20,270.93 217.72,273.55 214.68,273.55" fill="#000" stroke="#000" stroke-width="0.3"/><polygon points="223.15,270.93 224.67,273.55 221.63,273.55" fill="#000" stroke="#000" stroke-width="0.3"/><polygon points="230.10,270.93 231.62,273.55 228.58,273.55" fill="#000" stroke="#000" stroke-width="0.3"/><polygon points="237.05,270.93 238.57,273.55 235.53,273.55" fill="#000" stroke="#000" stroke-width="0.3"/><polygon points="244.00,258.01 245.52,260.63 242.48,260.63" fill="#000" stroke="#000" stroke-width="0.3"/><polygon points="250.95,225.71 252.47,228.33 249.43,228.33" fill="#000" stroke="#000" stroke-width="0.3"/><polygon points="257.90,174.03 259.42,176.65 256.38,176.65" fill="#000" stroke="#000" stroke-width="0.3"/><polygon points="264.85,199.87 266.37,202.49 263.33,202.49" fill="#000" stroke="#000" stroke-width="0.3"/><polygon points="271.80,251.55 273.32,254.17 270.28,254.17" fill="#000" stroke="#000" stroke-width="0.3"/><polygon points="278.75,270.93 280.27,273.55 277.23,273.55" fill="#000" stroke="#000" stroke-width="0.3"/><polygon points="285.70,270.93 287.22,273.55 284.18,273.55" fill="#000" stroke="#000" stroke-width="0.3"/><polyline points="209.25,272.50 216.20,272.50 223.15,272.50 230.10,272.50 237.05,266.04 244.00,259.58 250.95,227.28 257.90,175.60 264.85,207.90 271.80,253.12 278.75,272.50" fill="none" stroke="#000" stroke-width="0.66"/><rect x="207.84" y="271.09" width="2.82" height="2.82" fill="#fff" stroke="#000" stroke-width="0.8"/><rect x="214.79" y="271.09" width="2.82" height="2.82" fill="#fff" stroke="#000" stroke-width="0.8"/><rect x="221.74" y="271.09" width="2.82" height="2.82" fill="#fff" stroke="#000" stroke-width="0.8"/><rect x="228.69" y="271.09" width="2.82" height="2.82" fill="#fff" stroke="#000" stroke-width="0.8"/><rect x="235.64" y="264.63" width="2.82" height="2.82" fill="#fff" stroke="#000" stroke-width="0.8"/><rect x="242.59" y="258.17" width="2.82" height="2.82" fill="#fff" stroke="#000" stroke-width="0.8"/><rect x="249.54" y="225.87" width="2.82" height="2.82" fill="#fff" stroke="#000" stroke-width="0.8"/><rect x="256.49" y="174.19" width="2.82" height="2.82" fill="#fff" stroke="#000" stroke-width="0.8"/><rect x="263.44" y="206.49" width="2.82" height="2.82" fill="#fff" stroke="#000" stroke-width="0.8"/><rect x="270.39" y="251.71" width="2.82" height="2.82" fill="#fff" stroke="#000" stroke-width="0.8"/><rect x="277.34" y="271.09" width="2.82" height="2.82" fill="#fff" stroke="#000" stroke-width="0.8"/><text x="272.40" y="166.60" font-size="5.35">Target duration</text><line x1="280.50" y1="171.10" x2="288.90" y2="171.10" stroke="#000" stroke-width="0.66"/><circle cx="284.70" cy="171.10" r="1.38" fill="#fff" stroke="#000" stroke-width="0.8"/><text x="291.20" y="173.00" font-size="5.35">25 ms</text><line x1="280.50" y1="177.20" x2="288.90" y2="177.20" stroke="#000" stroke-width="0.66" stroke-dasharray="1.6 1.0"/><circle cx="284.70" cy="177.20" r="1.83" fill="#000"/><text x="291.20" y="179.10" font-size="5.35">50 ms</text><line x1="280.50" y1="183.30" x2="288.90" y2="183.30" stroke="#000" stroke-width="0.66"/><polygon points="284.70,181.73 286.22,184.35 283.18,184.35" fill="#fff" stroke="#000" stroke-width="0.8"/><text x="291.20" y="185.20" font-size="5.35">75 ms</text><line x1="280.50" y1="189.40" x2="288.90" y2="189.40" stroke="#000" stroke-width="0.66" stroke-dasharray="1.6 1.0"/><polygon points="284.70,187.83 286.22,190.45 283.18,190.45" fill="#000" stroke="#000" stroke-width="0.3"/><text x="291.20" y="191.30" font-size="5.35">100 ms</text><line x1="280.50" y1="195.50" x2="288.90" y2="195.50" stroke="#000" stroke-width="0.66"/><rect x="283.29" y="194.09" width="2.82" height="2.82" fill="#fff" stroke="#000" stroke-width="0.8"/><text x="291.20" y="197.40" font-size="5.35">125 ms</text></g></g>
</svg></div></body></html>
